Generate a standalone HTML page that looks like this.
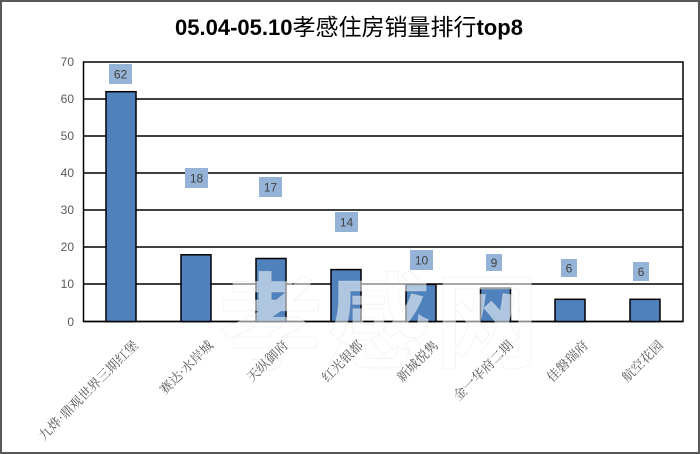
<!DOCTYPE html>
<html><head><meta charset="utf-8"><style>
html,body{margin:0;padding:0;background:#fff;}
svg{display:block;}
</style></head><body>
<svg width="700" height="454" viewBox="0 0 700 454" xmlns="http://www.w3.org/2000/svg">
<rect x="0" y="0" width="700" height="454" fill="#fff"/>
<rect x="1" y="1" width="698" height="452" fill="none" stroke="#595959" stroke-width="2"/>
<text x="349" y="35" text-anchor="middle" font-family="Liberation Sans, 'Noto Sans CJK SC', sans-serif" fill="#000"><tspan font-size="22" font-weight="bold">05.04-05.10</tspan><tspan font-size="23" font-family="'Noto Sans CJK SC', sans-serif">孝感住房销量排行</tspan><tspan font-size="22" font-weight="bold">top8</tspan></text>
<!-- plot area -->
<rect x="83.5" y="62" width="599.5" height="259.5" fill="#fff" stroke="#000" stroke-width="1.5"/>
<g stroke="#000" stroke-width="1.5">
<line x1="83.5" y1="99" x2="683" y2="99"/>
<line x1="83.5" y1="136" x2="683" y2="136"/>
<line x1="83.5" y1="173" x2="683" y2="173"/>
<line x1="83.5" y1="210" x2="683" y2="210"/>
<line x1="83.5" y1="247" x2="683" y2="247"/>
<line x1="83.5" y1="284" x2="683" y2="284"/>
<line x1="83.5" y1="321.5" x2="683" y2="321.5"/>
</g>
<g font-family="Liberation Sans, sans-serif" font-size="12" fill="#595959" text-anchor="end">
<text x="74" y="66">70</text>
<text x="74" y="103">60</text>
<text x="74" y="140">50</text>
<text x="74" y="177">40</text>
<text x="74" y="214">30</text>
<text x="74" y="251">20</text>
<text x="74" y="288">10</text>
<text x="74" y="326">0</text>
</g>
<!-- bars -->
<g fill="#4f81bd" stroke="#000" stroke-width="1.5">
<rect x="106" y="91.7" width="30" height="229.8"/>
<rect x="181" y="254.8" width="30" height="66.7"/>
<rect x="256" y="258.5" width="30" height="63"/>
<rect x="331" y="269.6" width="30" height="51.9"/>
<rect x="406" y="284.4" width="30" height="37.1"/>
<rect x="480.5" y="288.1" width="30" height="33.4"/>
<rect x="555" y="299.3" width="30" height="22.2"/>
<rect x="630" y="299.3" width="30" height="22.2"/>
</g>
<!-- data labels -->
<g fill="#95b3d7">
<rect x="109" y="64" width="23" height="20"/>
<rect x="185" y="168" width="23" height="20"/>
<rect x="259" y="177" width="23" height="20"/>
<rect x="335" y="212" width="23" height="20"/>
<rect x="410" y="250" width="23" height="20"/>
<rect x="486" y="254" width="16" height="17"/>
<rect x="561" y="259" width="16" height="18"/>
<rect x="633" y="262" width="16" height="19"/>
</g>
<g font-family="Liberation Sans, sans-serif" font-size="12" fill="#404040" text-anchor="middle">
<text x="120.5" y="78.5">62</text>
<text x="196.5" y="182.5">18</text>
<text x="270.5" y="191.5">17</text>
<text x="346.5" y="226.5">14</text>
<text x="421.5" y="264.5">10</text>
<text x="494" y="267">9</text>
<text x="569" y="272.5">6</text>
<text x="641" y="276">6</text>
</g>
<!-- watermark -->
<text x="381" y="360" text-anchor="middle" font-family="'Noto Sans CJK SC', sans-serif" font-size="104" font-weight="bold" fill="#fff" fill-opacity="0.55" stroke="#e0e0e0" stroke-opacity="0.35" stroke-width="1" letter-spacing="4">孝感网</text>
<!-- category labels -->
<g font-family="'Noto Serif CJK SC', 'Noto Sans CJK SC', serif" font-size="13" fill="#595959" text-anchor="end">
<text transform="translate(139,346) rotate(-45)">九烨·鼎观世界三期红堡</text>
<text transform="translate(214,346) rotate(-45)">赛达·水岸城</text>
<text transform="translate(289,346) rotate(-45)">天纵御府</text>
<text transform="translate(364,346) rotate(-45)">红光银都</text>
<text transform="translate(439,346) rotate(-45)">新城悦隽</text>
<text transform="translate(514,346) rotate(-45)">金一华府二期</text>
<text transform="translate(589,346) rotate(-45)">佳磐瑞府</text>
<text transform="translate(664,346) rotate(-45)">航空花园</text>
</g>
</svg>
</body></html>
